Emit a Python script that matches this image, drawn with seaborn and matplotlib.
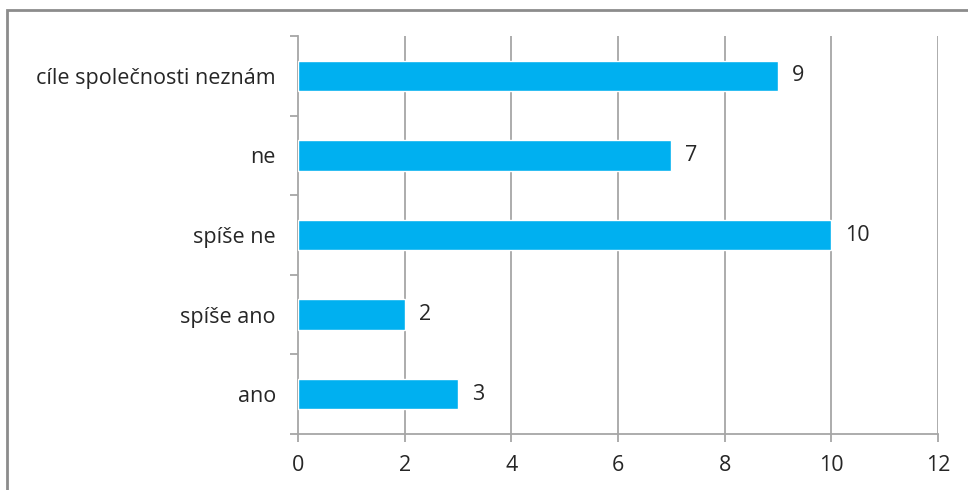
import matplotlib
matplotlib.use("Agg")
import matplotlib.pyplot as plt
from matplotlib.patches import Rectangle
import seaborn as sns
import pandas as pd
import numpy as np

categories = ["cíle společnosti neznám", "ne", "spíše ne", "spíše ano", "ano"]
counts = [9, 7, 10, 2, 3]
x_ticks = [0, 2, 4, 6, 8, 10, 12]

df = pd.DataFrame({"odpoved": categories, "pocet": counts})

sns.set_theme(style="white")
plt.rcParams["font.family"] = ["Open Sans", "DejaVu Sans"]

W, H = 968, 490
fig = plt.figure(figsize=(W / 100, H / 100), dpi=100)
fig.patch.set_facecolor("white")

# outer frame of the chart object (right/bottom edges run off the canvas)
fig.patches.append(Rectangle((7 / W, -0.1), 1.2, (H - 10) / H + 0.1,
                             transform=fig.transFigure, fill=False,
                             edgecolor="#8c8c8c", linewidth=2.0, zorder=0))

ax = fig.add_axes([298 / W, 1 - 434 / H, (938 - 298) / W, (434 - 36) / H])

grid_c = "#a6a6a6"
text_c = "#262626"
fs = 15.5

sns.barplot(data=df, x="pocet", y="odpoved", orient="h", order=categories,
            color="#00b0f0", saturation=1, width=0.38, ax=ax, zorder=3)

ax.set_xlim(0, 12)
ax.set_ylim(len(categories) - 0.5, -0.5)
ax.set_xticks(x_ticks)
ax.set_xticklabels([str(t) for t in x_ticks])
ax.set_xlabel("")
ax.set_ylabel("")

# vertical gridlines
for t in x_ticks[1:]:
    ax.axvline(t, color=grid_c, linewidth=1.3, zorder=1)

for side in ["top", "right"]:
    ax.spines[side].set_visible(False)
for side in ["left", "bottom"]:
    ax.spines[side].set_color(grid_c)
    ax.spines[side].set_linewidth(1.3)

# category boundary ticks on the value axis
ax.set_yticks(np.arange(-0.5, len(categories), 1.0), minor=True)
ax.tick_params(axis="y", which="minor", length=6, width=1.3, color=grid_c,
               direction="out", left=True)
ax.tick_params(axis="y", which="major", length=0, pad=16, labelsize=fs,
               labelcolor=text_c)
ax.tick_params(axis="x", which="major", length=6, width=1.3, color=grid_c,
               direction="out", bottom=True, pad=9, labelsize=fs,
               labelcolor=text_c)

for c in ax.containers:
    ax.bar_label(c, labels=[str(v) for v in counts], padding=10,
                 fontsize=fs, color=text_c)

fig.savefig("out.png", dpi=100, facecolor="white")
